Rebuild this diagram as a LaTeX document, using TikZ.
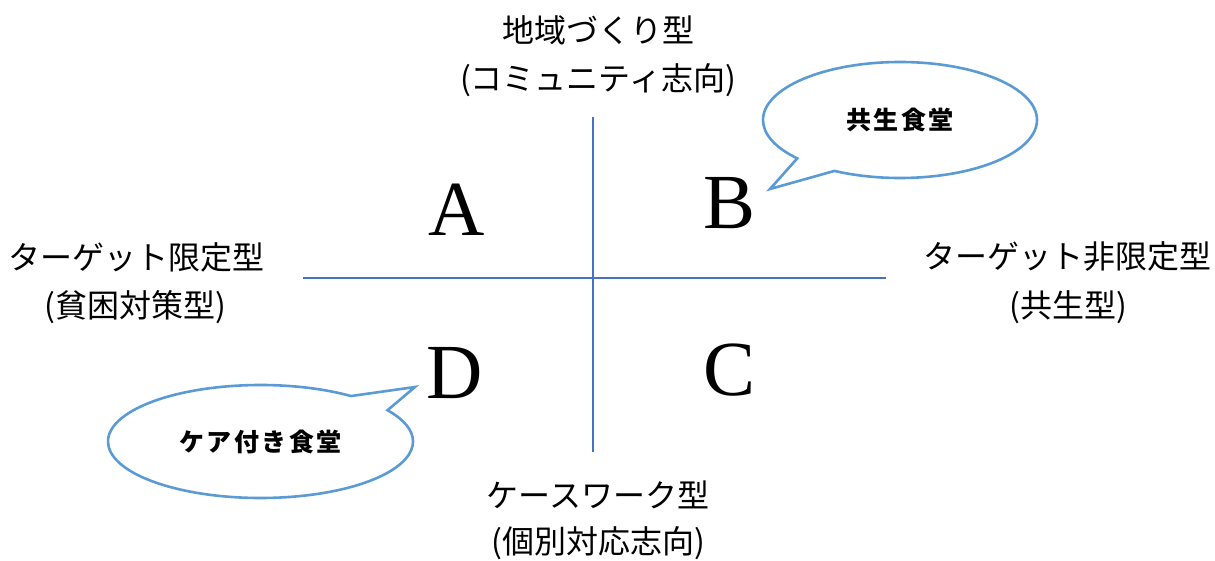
\documentclass[tikz,border=0pt]{standalone}
\usepackage{fontspec}
\setmainfont{Liberation Serif}
\newfontfamily\cjk{Noto Sans CJK JP}
\newfontfamily\cjkb[LetterSpace=10]{Noto Sans CJK JP}
\usetikzlibrary{shapes.callouts}
\definecolor{axisblue}{RGB}{68,114,196}
\definecolor{bubblue}{RGB}{91,155,213}
\begin{document}
\begin{tikzpicture}[x=1pt,y=1pt,
  axis/.style={draw=axisblue, line width=1.3pt},
  lbl/.style={font=\cjk\fontsize{32}{32}\selectfont, inner sep=0},
  quad/.style={font=\fontsize{78}{78}\selectfont, inner sep=0},
  bubble/.style={ellipse callout, draw=bubblue, line width=2.6pt, fill=white,
    inner sep=0, callout pointer arc=20,
    font=\cjkb\bfseries\fontsize{25}{25}\selectfont}]
\useasboundingbox (0,0) rectangle (1215,560);
% axes
\coordinate (vt) at (593,443);
\coordinate (vb) at (593,108);
\coordinate (hl) at (303,282);
\coordinate (hr) at (886,282);
\draw[axis] (vt) -- (vb);
\draw[axis] (hl) -- (hr);
% axis labels
\node[lbl] (top1) at (598,530) {地域づくり型};
\node[lbl] (top2) at (598,480) {(コミュニティ志向)};
\node[lbl] (left1) at (137,303) {ターゲット限定型};
\node[lbl] (left2) at (135,253) {(貧困対策型)};
\node[lbl] (right1) at (1067,303) {ターゲット非限定型};
\node[lbl] (right2) at (1068,253) {(共生型)};
\node[lbl] (bot1) at (598,65) {ケースワーク型};
\node[lbl] (bot2) at (598,17) {(個別対応志向)};
% quadrant letters
\node[quad] (A) at (457,350) {A};
\node[quad] (B) at (730,357) {B};
\node[quad] (C) at (730,190) {C};
\node[quad] (D) at (455,187) {D};
% callouts
\node[bubble, minimum width=274pt, minimum height=116pt,
  callout absolute pointer={(770,371)}] (kyosei) at (900,440) {共生食堂};
\node[bubble, minimum width=305pt, minimum height=113pt,
  callout absolute pointer={(415,173)}] (care) at (260.5,118.5) {ケア付き食堂};
\end{tikzpicture}
\end{document}
